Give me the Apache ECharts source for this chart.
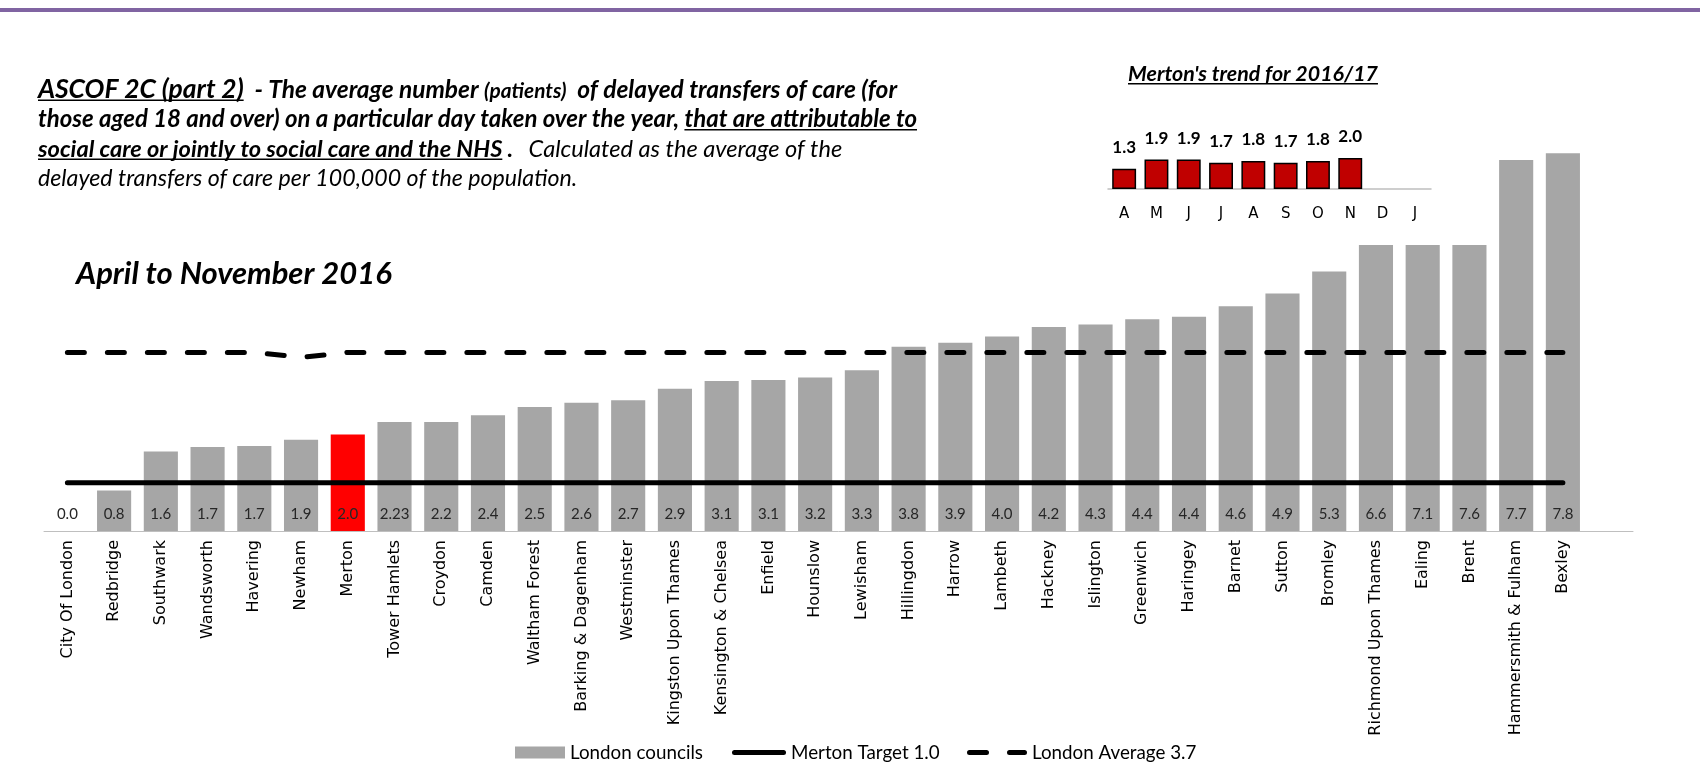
<!DOCTYPE html>
<html>
<head>
<meta charset="utf-8">
<script src="https://cdn.jsdelivr.net/npm/echarts@6/dist/echarts.min.js"></script>
<style>
  html, body { margin: 0; padding: 0; background: #fff; }
  #chart { width: 1700px; height: 769px; }
</style>
</head>
<body>
<div id="chart"></div>
<script>
// London boroughs, lowest to highest
var boroughs = ['City Of London', 'Redbridge', 'Southwark', 'Wandsworth', 'Havering', 'Newham', 'Merton',
  'Tower Hamlets', 'Croydon', 'Camden', 'Waltham Forest', 'Barking & Dagenham', 'Westminster',
  'Kingston Upon Thames', 'Kensington & Chelsea', 'Enfield', 'Hounslow', 'Lewisham', 'Hillingdon',
  'Harrow', 'Lambeth', 'Hackney', 'Islington', 'Greenwich', 'Haringey', 'Barnet', 'Sutton', 'Bromley',
  'Richmond Upon Thames', 'Ealing', 'Brent', 'Hammersmith & Fulham', 'Bexley'];
// bar heights as drawn
var barHeights = [0, 0.84, 1.65, 1.74, 1.76, 1.89, 2.0, 2.26, 2.26, 2.4, 2.57, 2.66, 2.71, 2.95, 3.11,
  3.13, 3.18, 3.33, 3.82, 3.9, 4.03, 4.23, 4.28, 4.39, 4.44, 4.66, 4.92, 5.38, 5.93, 5.93, 5.93, 7.69, 7.83];
// labels printed inside the bars
var barLabels = ['0.0', '0.8', '1.6', '1.7', '1.7', '1.9', '2.0', '2.23', '2.2', '2.4', '2.5', '2.6', '2.7',
  '2.9', '3.1', '3.1', '3.2', '3.3', '3.8', '3.9', '4.0', '4.2', '4.3', '4.4', '4.4', '4.6', '4.9', '5.3',
  '6.6', '7.1', '7.6', '7.7', '7.8'];
var mertonTarget = [1.0, 1.0, 1.0, 1.0, 1.0, 1.0, 1.0, 1.0, 1.0, 1.0, 1.0, 1.0, 1.0, 1.0, 1.0, 1.0, 1.0,
  1.0, 1.0, 1.0, 1.0, 1.0, 1.0, 1.0, 1.0, 1.0, 1.0, 1.0, 1.0, 1.0, 1.0, 1.0, 1.0];
var londonAverage = [3.7, 3.7, 3.7, 3.7, 3.7, 3.6, 3.7, 3.7, 3.7, 3.7, 3.7, 3.7, 3.7, 3.7, 3.7, 3.7, 3.7,
  3.7, 3.7, 3.7, 3.7, 3.7, 3.7, 3.7, 3.7, 3.7, 3.7, 3.7, 3.7, 3.7, 3.7, 3.7, 3.7];

// Merton monthly trend
var months = ['A', 'M', 'J', 'J', 'A', 'S', 'O', 'N', 'D', 'J'];
var mertonTrend = [1.3, 1.9, 1.9, 1.7, 1.8, 1.7, 1.8, 2.0, null, null];

var FONT = 'Lato';
var measureCtx = document.createElement('canvas').getContext('2d');
function textWidth(s, font) {
  measureCtx.font = font;
  return measureCtx.measureText(s).width;
}
function fontOf(p, size) {
  return (p.i ? 'italic ' : '') + (p.b ? 'bold ' : '') + (size * (p.s || 1)).toFixed(1) + 'px ' + FONT;
}
function lineWidth(parts, size) {
  var w = 0;
  parts.forEach(function (p) { w += textWidth(p.t, fontOf(p, size)); });
  return w;
}
// writes one line of mixed text, underlines drawn as thin rects
function writeLine(els, x, baseline, parts, size) {
  parts.forEach(function (p) {
    var f = fontOf(p, size);
    var w = textWidth(p.t, f);
    els.push({
      type: 'text', x: x, y: baseline - 0.32 * size * (p.s || 1), silent: true,
      style: { text: p.t, font: f, fill: '#000', verticalAlign: 'middle' }
    });
    if (p.u) {
      els.push({ type: 'rect', silent: true, shape: { x: x, y: baseline + 2, width: w, height: 1.6 }, style: { fill: '#000' } });
    }
    x += w;
  });
}
// size that makes a line as wide as in the original
function fitSize(parts, width) {
  return 20 * width / lineWidth(parts, 20);
}

var header = [
  [{ t: 'ASCOF 2C (part 2)', b: 1, i: 1, u: 1, s: 1.08 }, { t: '  - The average number ', b: 1, i: 1 },
   { t: '(patients)', b: 1, i: 1, s: 0.85 }, { t: '  of delayed transfers of care (for', b: 1, i: 1 }],
  [{ t: 'those aged 18 and over) on a particular day taken over the year, ', b: 1, i: 1 },
   { t: 'that are attributable to', b: 1, i: 1, u: 1 }],
  [{ t: 'social care or jointly to social care and the NHS', b: 1, i: 1, u: 1 }, { t: ' .   ', b: 1, i: 1 },
   { t: 'Calculated as the average of the', i: 1 }],
  [{ t: 'delayed transfers of care per 100,000 of the population.', i: 1 }]
];
var headerWidths = [858, 878, 804, 539];
var baselines = [97.5, 127, 156.5, 186];

var els = [];
// purple rule at the top
els.push({ type: 'rect', silent: true, shape: { x: 0, y: 8, width: 1700, height: 4 }, style: { fill: '#8064A2' } });

header.forEach(function (parts, k) {
  writeLine(els, 38, baselines[k], parts, fitSize(parts, headerWidths[k]));
});

var sub = [{ t: 'April to November 2016', b: 1, i: 1 }];
writeLine(els, 76, 284, sub, fitSize(sub, 316));

var miniTitle = [{ t: "Merton's trend for 2016/17", b: 1, i: 1, u: 1 }];
writeLine(els, 1128, 81, miniTitle, fitSize(miniTitle, 250));

// legend icons: a thick line and a two-dash line
var solidIcon = 'path://M0,0 M0,12 M2.5,3.5 H51.5 A2.5,2.5 0 0 1 51.5,8.5 H2.5 A2.5,2.5 0 0 1 2.5,3.5 Z';
var dashIcon = 'path://M0,0 M60,12 M2.5,3.5 H19.5 A2.5,2.5 0 0 1 19.5,8.5 H2.5 A2.5,2.5 0 0 1 2.5,3.5 Z ' +
  'M42.5,3.5 H57.5 A2.5,2.5 0 0 1 57.5,8.5 H42.5 A2.5,2.5 0 0 1 42.5,3.5 Z';

function legendAt(left, width, item) {
  return {
    left: left, top: 738,
    itemWidth: width, itemHeight: 12,
    textStyle: { fontFamily: FONT, fontSize: 18.8, color: '#000' },
    data: [item]
  };
}

var myChart = echarts.init(document.getElementById('chart'));
myChart.setOption({
  animation: false,
  backgroundColor: '#fff',
  graphic: { elements: els },
  legend: [
    legendAt(510, 50, { name: 'London councils', icon: 'rect' }),
    legendAt(727, 54, { name: 'Merton Target 1.0', icon: solidIcon, itemStyle: { color: '#000' } }),
    legendAt(962, 60, { name: 'London Average 3.7', icon: dashIcon, itemStyle: { color: '#000' } })
  ],
  grid: [
    { left: 44, right: 67, top: 145, bottom: 238 },
    { left: 1108, right: 269, top: 142.5, bottom: 580 }
  ],
  xAxis: [{
    type: 'category',
    gridIndex: 0,
    data: boroughs.concat(['']),
    axisLine: { lineStyle: { color: '#BFBFBF', width: 1 } },
    axisTick: { length: 6, lineStyle: { color: '#BFBFBF' } },
    axisLabel: { interval: 0, rotate: 90, margin: 9, fontFamily: 'DejaVu Sans', fontSize: 16, color: '#000' }
  }, {
    type: 'category',
    gridIndex: 1,
    data: months,
    axisLine: { lineStyle: { color: '#BFBFBF', width: 1.5 } },
    axisTick: { length: 5, lineStyle: { color: '#BFBFBF', width: 1.5 } },
    axisLabel: { interval: 0, margin: 18, fontFamily: 'DejaVu Sans', fontSize: 15, color: '#000' }
  }],
  yAxis: [
    { type: 'value', gridIndex: 0, min: 0, max: 8, show: false },
    { type: 'value', gridIndex: 1, min: 0, max: 3, show: false }
  ],
  series: [{
    name: 'London councils',
    type: 'bar',
    barCategoryGap: '27%',
    itemStyle: { color: '#A6A6A6' },
    data: barHeights.map(function (v, i) {
      return boroughs[i] === 'Merton' ? { value: v, itemStyle: { color: '#FF0000' } } : v;
    }),
    label: {
      show: true, position: 'insideBottom', distance: 9,
      fontFamily: FONT, fontSize: 15, color: '#262626',
      formatter: function (p) { return barLabels[p.dataIndex]; }
    },
    z: 2
  }, {
    name: 'Merton Target 1.0',
    type: 'line',
    data: mertonTarget,
    symbol: 'none',
    color: '#000',
    lineStyle: { color: '#000', width: 5, cap: 'round' },
    z: 3
  }, {
    name: 'London Average 3.7',
    type: 'line',
    data: londonAverage,
    symbol: 'none',
    color: '#000',
    lineStyle: { color: '#000', width: 5, type: [17, 23], cap: 'round' },
    z: 3
  }, {
    name: 'trend',
    type: 'bar',
    xAxisIndex: 1, yAxisIndex: 1,
    barCategoryGap: '26%',
    data: mertonTrend,
    itemStyle: { color: '#C00000', borderColor: '#000', borderWidth: 1.5 },
    label: {
      show: true, position: 'top', distance: 13,
      fontFamily: FONT, fontWeight: 'bold', fontSize: 17, color: '#000',
      formatter: function (p) { return p.value.toFixed(1); }
    }
  }]
});
</script>
</body>
</html>
